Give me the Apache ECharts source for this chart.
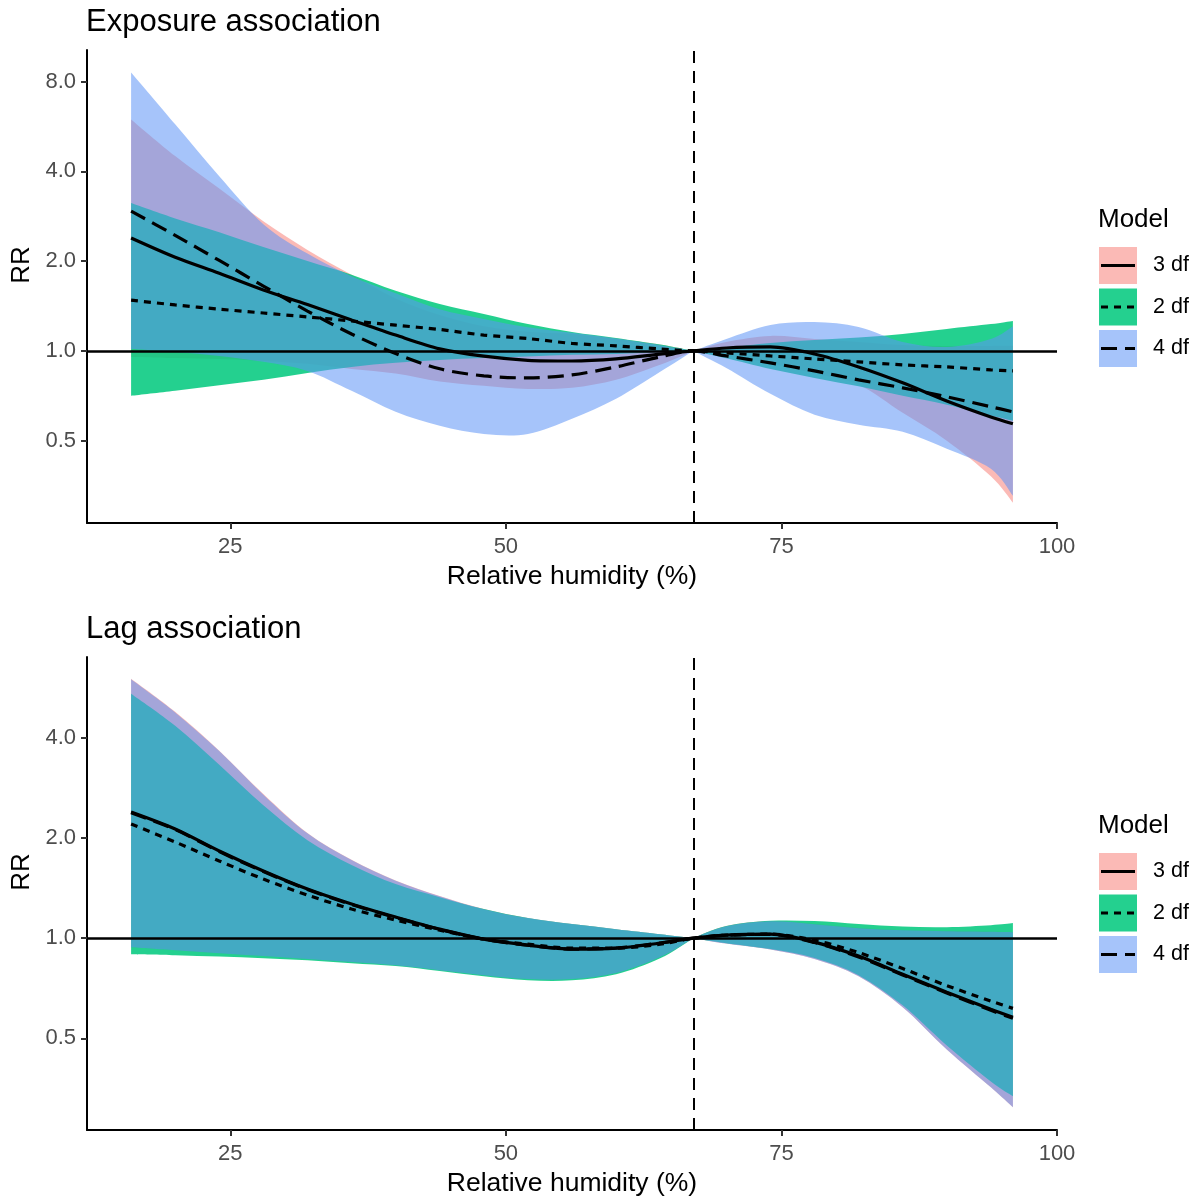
<!DOCTYPE html>
<html><head><meta charset="utf-8">
<script src="https://cdn.jsdelivr.net/npm/echarts@6/dist/echarts.min.js"></script>
<style>html,body{margin:0;padding:0;background:#fff}#c{width:1201px;height:1198px}</style>
</head><body><div id="c"></div>
<script>
// ---------- data ----------
const humidity = [16,20,24,28,32,36,40,44,48,52,56,60,64,67,70,74,78,82,86,90,94,96];
const refHumidity = 67;
const xTicks = [25,50,75,100];
const yTicks = [0.5,1,2,4,8];
const modelNames = ['3 df','2 df','4 df'];

// Exposure association (top)
const exp3 = [2.39,2.06,1.82,1.60,1.43,1.27,1.13,1.016,0.96,0.93,0.925,0.94,0.975,1.0,1.023,1.031,0.977,0.884,0.782,0.68,0.601,0.570];
const exp2 = [1.48,1.426,1.38,1.34,1.30,1.26,1.22,1.18,1.13,1.10,1.06,1.04,1.015,1.0,0.985,0.962,0.94,0.919,0.898,0.884,0.864,0.857];
const exp4 = [2.94,2.44,2.01,1.65,1.36,1.14,0.98,0.871,0.825,0.812,0.831,0.884,0.955,1.0,0.962,0.912,0.857,0.80,0.752,0.702,0.65,0.625];
const exp3Low  = [0.955,0.947,0.94,0.926,0.905,0.87,0.84,0.79,0.764,0.746,0.752,0.80,0.898,1.0,0.965,0.91,0.84,0.77,0.62,0.50,0.38,0.31];
const exp3High = [5.97,4.50,3.50,2.72,2.18,1.80,1.50,1.32,1.21,1.16,1.14,1.10,1.05,1.0,1.072,1.123,1.097,1.072,1.047,1.039,1.039,1.04];
const exp2Low  = [0.707,0.735,0.767,0.80,0.844,0.884,0.912,0.933,0.947,0.958,0.97,0.977,0.992,1.0,0.945,0.87,0.812,0.761,0.707,0.66,0.607,0.583];
const exp2High = [3.13,2.78,2.50,2.23,2.0,1.80,1.59,1.436,1.33,1.23,1.158,1.105,1.05,1.0,1.027,1.064,1.088,1.11,1.14,1.185,1.23,1.26];
const exp4Low  = [1.015,0.992,0.962,0.919,0.857,0.735,0.625,0.561,0.527,0.527,0.592,0.691,0.851,1.0,0.877,0.718,0.611,0.566,0.536,0.47,0.403,0.327];
const exp4High = [8.57,5.75,3.85,2.66,2.12,1.78,1.56,1.38,1.28,1.20,1.15,1.10,1.045,1.0,1.097,1.222,1.25,1.203,1.072,1.031,1.097,1.21];

// Lag association (bottom)
const lag3 = [2.395,2.129,1.828,1.591,1.404,1.266,1.157,1.064,0.993,0.953,0.927,0.933,0.966,1.0,1.021,1.028,0.973,0.883,0.779,0.688,0.611,0.578];
const lag2 = [2.204,1.945,1.706,1.505,1.347,1.223,1.133,1.057,0.993,0.959,0.933,0.933,0.959,1.0,1.021,1.028,0.986,0.905,0.81,0.72,0.647,0.615];
const lag4 = [2.38,2.12,1.82,1.585,1.40,1.262,1.153,1.062,0.992,0.952,0.927,0.934,0.967,1.0,1.02,1.026,0.97,0.878,0.775,0.684,0.607,0.574];
const lag3Low  = [0.939,0.92,0.901,0.883,0.865,0.847,0.829,0.801,0.774,0.753,0.753,0.785,0.877,1.0,0.963,0.924,0.866,0.768,0.62,0.463,0.356,0.31];
const lag3High = [6.02,4.79,3.66,2.71,2.07,1.72,1.49,1.338,1.223,1.149,1.102,1.064,1.028,1.0,1.087,1.125,1.102,1.072,1.057,1.05,1.046,1.043];
const lag2Low  = [0.895,0.889,0.88,0.87,0.858,0.84,0.824,0.796,0.768,0.747,0.747,0.779,0.87,1.0,0.966,0.927,0.871,0.774,0.628,0.476,0.371,0.335];
const lag2High = [5.43,4.35,3.32,2.51,1.97,1.66,1.454,1.328,1.223,1.149,1.102,1.064,1.028,1.0,1.087,1.127,1.125,1.102,1.083,1.079,1.094,1.11];
const lag4Low  = [0.939,0.92,0.901,0.883,0.865,0.847,0.829,0.801,0.774,0.753,0.753,0.785,0.877,1.0,0.963,0.924,0.866,0.768,0.62,0.463,0.356,0.31];
const lag4High = [6.0,4.77,3.65,2.70,2.065,1.718,1.488,1.337,1.222,1.149,1.102,1.064,1.028,1.0,1.086,1.124,1.101,1.071,1.056,1.049,1.045,1.042];

// ---------- styles ----------
const FONT = '"Liberation Sans", Arial, Helvetica, sans-serif';
const fill3 = 'rgba(248,118,109,0.5)';
const fill2 = 'rgba(0,200,125,0.86)';
const fill4 = 'rgba(92,148,245,0.55)';
const dash3 = 'solid', dash2 = [7,6], dash4 = [16,8];

const chart = echarts.init(document.getElementById('c'), null, {renderer:'canvas'});

function pairs(xs, ys){ return xs.map((x,i)=>[x, ys[i]]); }
const refIdx = humidity.indexOf(refHumidity);

// Catmull-Rom spline through pixel points (starting at pts[0])
function spline(pts){
  let s = '';
  for (let i=0;i<pts.length-1;i++){
    const p0=pts[Math.max(i-1,0)], p1=pts[i], p2=pts[i+1], p3=pts[Math.min(i+2,pts.length-1)];
    const c1=[p1[0]+(p2[0]-p0[0])/6, p1[1]+(p2[1]-p0[1])/6];
    const c2=[p2[0]-(p3[0]-p1[0])/6, p2[1]-(p3[1]-p1[1])/6];
    s += ' C'+c1[0].toFixed(2)+','+c1[1].toFixed(2)+' '+c2[0].toFixed(2)+','+c2[1].toFixed(2)+' '+p2[0].toFixed(2)+','+p2[1].toFixed(2);
  }
  return s;
}
function pieceCurve(pts){ // spline with a corner at the reference point
  return spline(pts.slice(0, refIdx+1)) + spline(pts.slice(refIdx));
}

function ribbon(g, lo, hi, color){
  return {type:'custom', xAxisIndex:g, yAxisIndex:g, silent:true, z:1, clip:true,
    data: humidity.map((x,i)=>[x, lo[i], hi[i]]),
    encode:{x:0, y:[1,2]},
    renderItem:function(params, api){
      if (params.dataIndex !== 0) return null;
      const up = humidity.map((x,i)=>api.coord([x, hi[i]]));
      const dnF = humidity.map((x,i)=>api.coord([x, lo[i]]));
      const dn = dnF.slice().reverse();
      const n = humidity.length, r = n-1-refIdx;
      const dnCurve = spline(dn.slice(0, r+1)) + spline(dn.slice(r));
      const d = 'M'+up[0][0]+','+up[0][1] + pieceCurve(up) +
                ' L'+dn[0][0]+','+dn[0][1] + dnCurve + ' Z';
      return {type:'path', shape:{pathData:d}, style:{fill:color}};
    }};
}
function curve(g, ys, type, withMarks){
  const s = {type:'line', xAxisIndex:g, yAxisIndex:g, data:pairs(humidity, ys), symbol:'none',
    smooth:0.3, lineStyle:{color:'#000', width:3.2, type:type}, silent:true, z:3};
  if (withMarks){
    s.markLine = {silent:true, symbol:['none','none'], label:{show:false}, animation:false,
      data:[
        {yAxis:1, lineStyle:{color:'#000', width:2.5, type:'solid'}},
        {xAxis:refHumidity, lineStyle:{color:'#000', width:2, type:[12,8]}}
      ]};
  }
  return s;
}

function xAxisCfg(g){
  return {type:'value', gridIndex:g, min:12, max:100,
    name:'Relative humidity (%)', nameLocation:'middle', nameGap:40,
    nameTextStyle:{color:'#000', fontSize:26.5, fontFamily:FONT},
    axisLine:{show:true, onZero:false, lineStyle:{color:'#000', width:2}},
    axisTick:{show:true, length:6, customValues:xTicks, lineStyle:{color:'#333', width:2}},
    axisLabel:{customValues:xTicks, color:'#4d4d4d', fontSize:22, fontFamily:FONT, margin:13},
    splitLine:{show:false}};
}
function yAxisCfg(g, min, max){
  return {type:'log', logBase:2, gridIndex:g, min:min, max:max,
    axisLine:{show:true, onZero:false, lineStyle:{color:'#000', width:2}},
    axisTick:{show:true, length:6, customValues:yTicks, lineStyle:{color:'#333', width:2}},
    axisLabel:{customValues:yTicks, color:'#4d4d4d', fontSize:22, fontFamily:FONT, margin:11,
      formatter:v=>Number(v).toFixed(1)},
    splitLine:{show:false}};
}

function legend(top){
  const items = [];
  items.push({type:'text', x:1098, y:top+20, style:{text:'Model', fontSize:26, fontFamily:FONT, fill:'#000', verticalAlign:'middle'}});
  const fills=[fill3,fill2,fill4], dashes=[dash3,dash2,dash4];
  for (let i=0;i<3;i++){
    const y0 = top+47+i*41.5;
    items.push({type:'rect', shape:{x:1099,y:y0,width:38,height:37}, style:{fill:fills[i]}});
    items.push({type:'line', shape:{x1:1101,y1:y0+18.5,x2:1135,y2:y0+18.5},
      style:{stroke:'#000', lineWidth:3.2, lineDash: dashes[i]==='solid'?null:dashes[i]}});
    items.push({type:'text', x:1153, y:y0+18.5, style:{text:modelNames[i], fontSize:21.5, fontFamily:FONT, fill:'#000', verticalAlign:'middle'}});
  }
  return items;
}
function rrLabel(cy){
  return {type:'text', x:22, y:cy, rotation:Math.PI/2,
    style:{text:'RR', fontSize:26, fontFamily:FONT, fill:'#000', align:'center', verticalAlign:'middle'}};
}

const option = {
  animation:false,
  backgroundColor:'#fff',
  title:[
    {text:'Exposure association', left:86, top:7, padding:0, textStyle:{fontSize:31, fontWeight:'normal', color:'#000', fontFamily:FONT}},
    {text:'Lag association', left:86, top:614, padding:0, textStyle:{fontSize:31, fontWeight:'normal', color:'#000', fontFamily:FONT}}
  ],
  grid:[
    {left:87, top:50, width:970, height:473},
    {left:87, top:657, width:970, height:475}
  ],
  xAxis:[xAxisCfg(0), xAxisCfg(1)],
  yAxis:[yAxisCfg(0,0.265,10.2), yAxisCfg(1,0.265,7.0)],
  series:[
    ribbon(0,exp3Low,exp3High,fill3),
    ribbon(0,exp2Low,exp2High,fill2),
    ribbon(0,exp4Low,exp4High,fill4),
    curve(0,exp3,dash3,true),
    curve(0,exp2,dash2,false),
    curve(0,exp4,dash4,false),
    ribbon(1,lag3Low,lag3High,fill3),
    ribbon(1,lag2Low,lag2High,fill2),
    ribbon(1,lag4Low,lag4High,fill4),
    curve(1,lag3,dash3,true),
    curve(1,lag2,dash2,false),
    curve(1,lag4,dash4,false)
  ],
  graphic:[...legend(200), ...legend(806), rrLabel(265), rrLabel(872)]
};
chart.setOption(option);
</script>
</body></html>
